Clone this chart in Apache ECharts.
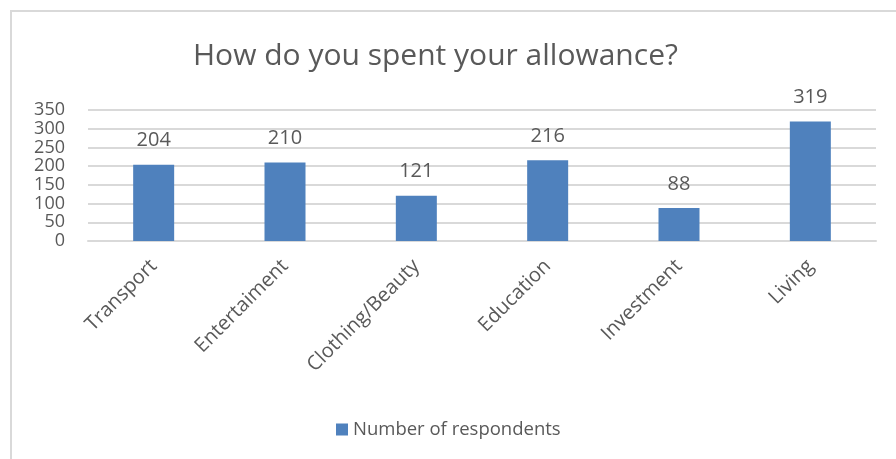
<!DOCTYPE html>
<html>
<head>
<meta charset="utf-8">
<script src="https://cdn.jsdelivr.net/npm/echarts@6/dist/echarts.min.js"></script>
<style>
  html, body { margin: 0; padding: 0; background: #ffffff; }
  #chart { width: 896px; height: 459px; }
</style>
</head>
<body>
<div id="chart"></div>
<script>
// Spending categories and number of respondents per category
const categories = ['Transport', 'Entertaiment', 'Clothing/Beauty', 'Education', 'Investment', 'Living'];
const respondents = [204, 210, 121, 216, 88, 319];
const seriesName = 'Number of respondents';
const chartTitle = 'How do you spent your allowance?';
const yTicks = { min: 0, max: 350, interval: 50 };

const textColor = '#595959';
const gridColor = '#d9d9d9';
const barColor = '#4f81bd';
const fontFamily = '"Open Sans", "Liberation Sans", sans-serif';

const chart = echarts.init(document.getElementById('chart'), null, { renderer: 'canvas' });

chart.setOption({
  animation: false,
  backgroundColor: '#ffffff',
  textStyle: { fontFamily: fontFamily },
  title: {
    text: chartTitle,
    left: 188,
    top: 36,
    textStyle: { color: textColor, fontSize: 30, fontWeight: 'normal', fontFamily: fontFamily }
  },
  graphic: [{
    type: 'rect',
    silent: true,
    shape: { x: 11, y: 11, width: 1000, height: 1000 },
    style: { fill: 'none', stroke: gridColor, lineWidth: 2 }
  }],
  legend: {
    data: [seriesName],
    left: 331,
    top: 415,
    icon: 'rect',
    itemWidth: 12,
    itemHeight: 12,
    itemGap: 6,
    textStyle: { color: textColor, fontSize: 18.5, fontFamily: fontFamily }
  },
  grid: { left: 88, right: 20, top: 110, bottom: 218, containLabel: false },
  xAxis: {
    type: 'category',
    data: categories,
    axisLine: { lineStyle: { color: gridColor, width: 2 } },
    axisTick: { show: false },
    axisLabel: {
      rotate: 45,
      margin: 22,
      interval: 0,
      color: textColor,
      fontSize: 20,
      fontFamily: fontFamily
    }
  },
  yAxis: {
    type: 'value',
    min: yTicks.min,
    max: yTicks.max,
    interval: yTicks.interval,
    axisLine: { show: false },
    axisTick: { show: false },
    splitLine: { lineStyle: { color: gridColor, width: 2 } },
    axisLabel: {
      color: textColor,
      fontSize: 18,
      margin: 23,
      showMinLabel: true,
      showMaxLabel: true,
      hideOverlap: false,
      fontFamily: fontFamily
    }
  },
  series: [{
    name: seriesName,
    type: 'bar',
    data: respondents,
    barWidth: 41,
    itemStyle: { color: barColor },
    label: {
      show: true,
      position: 'top',
      distance: 14,
      color: textColor,
      fontSize: 20,
      fontFamily: fontFamily
    }
  }]
});
</script>
</body>
</html>
